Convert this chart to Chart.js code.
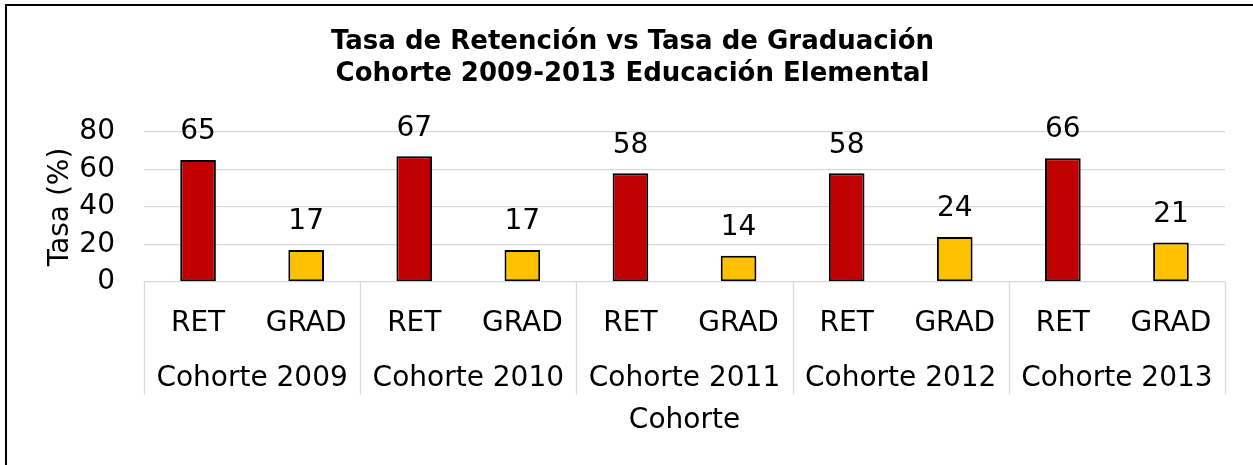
<!DOCTYPE html>
<html>
<head>
<meta charset="utf-8">
<script src="https://cdn.jsdelivr.net/npm/chart.js@4.4.1/dist/chart.umd.min.js"></script>
<style>
  html, body { margin: 0; padding: 0; background: #fff; }
  canvas { display: block; }
</style>
</head>
<body>
<canvas id="tasaChart" width="1253" height="465"></canvas>
<script>
// Datos (%)
const cohorts = ['Cohorte 2009', 'Cohorte 2010', 'Cohorte 2011', 'Cohorte 2012', 'Cohorte 2013'];
const subLabels = ['RET', 'GRAD'];
const retention = [65, 67, 58, 58, 66];
const graduation = [17, 17, 14, 24, 21];
const yTicks = [0, 20, 40, 60, 80];

const RED = '#C00000';
const GOLD = '#FFC000';
const GRID = '#d9d9d9';

// intercalar RET / GRAD por cohorte
const barLabels = [];
const barValues = [];
const barColors = [];
cohorts.forEach((c, i) => {
  barLabels.push(subLabels[0], subLabels[1]);
  barValues.push(retention[i], graduation[i]);
  barColors.push(RED, GOLD);
});

Chart.defaults.font.family = "'DejaVu Sans', sans-serif";
Chart.defaults.color = '#000';

// fondo blanco + marco (solo izquierda y arriba, como la captura)
const framePlugin = {
  id: 'frame',
  beforeDraw(chart) {
    const { ctx, width, height } = chart;
    ctx.save();
    ctx.fillStyle = '#fff';
    ctx.fillRect(0, 0, width, height);
    ctx.strokeStyle = '#000';
    ctx.lineWidth = 2;
    ctx.beginPath();
    ctx.moveTo(6, height);
    ctx.lineTo(6, 5);
    ctx.lineTo(width, 5);
    ctx.stroke();
    ctx.restore();
  }
};

// separadores del eje de categorías en dos niveles
const groupLinesPlugin = {
  id: 'groupLines',
  afterDraw(chart) {
    const x = chart.scales.x;
    const x2 = chart.scales.x2;
    const { ctx } = chart;
    const half = (x.getPixelForValue(1) - x.getPixelForValue(0)) / 2;
    const bottom = x2.top + x2.options.ticks.padding + 33;
    ctx.save();
    ctx.strokeStyle = GRID;
    ctx.lineWidth = 1.3;
    ctx.beginPath();
    for (let g = 0; g <= cohorts.length; g++) {
      const idx = g * subLabels.length;
      const px = Math.round(idx < barLabels.length ? x.getPixelForValue(idx) - half : x.getPixelForValue(idx - 1) + half) + 0.5;
      ctx.moveTo(px, x.top);
      ctx.lineTo(px, bottom);
    }
    ctx.stroke();
    ctx.restore();
  }
};

// etiquetas de valor encima de cada barra
const valueLabelsPlugin = {
  id: 'valueLabels',
  afterDatasetsDraw(chart) {
    const { ctx } = chart;
    const meta = chart.getDatasetMeta(0);
    ctx.save();
    ctx.font = "28px 'DejaVu Sans', sans-serif";
    ctx.fillStyle = '#000';
    ctx.textAlign = 'center';
    ctx.textBaseline = 'middle';
    meta.data.forEach((bar, i) => {
      ctx.fillText(String(barValues[i]), bar.x, bar.y - 28);
    });
    ctx.restore();
  }
};

new Chart(document.getElementById('tasaChart'), {
  type: 'bar',
  data: {
    labels: barLabels,
    datasets: [{
      data: barValues,
      backgroundColor: barColors,
      borderColor: '#000',
      borderWidth: 2,
      borderSkipped: false,
      categoryPercentage: 1,
      barPercentage: 0.33
    }]
  },
  options: {
    responsive: false,
    animation: false,
    layout: { padding: { left: 40, right: 28, top: 0, bottom: 27 } },
    plugins: {
      legend: { display: false },
      tooltip: { enabled: false },
      title: {
        display: true,
        text: ['Tasa de Retención vs Tasa de Graduación', 'Cohorte 2009-2013 Educación Elemental'],
        color: '#000',
        font: { size: 26, weight: 'bold', lineHeight: 1.23 },
        padding: { top: 26, bottom: 42 }
      }
    },
    scales: {
      y: {
        min: 0,
        max: 80,
        afterBuildTicks: (scale) => { scale.ticks = yTicks.map(v => ({ value: v })); },
        afterFit: (scale) => { scale.width = 104; },
        ticks: { font: { size: 28 }, padding: 29, color: '#000', autoSkip: false },
        grid: { color: GRID, lineWidth: 1.3, drawTicks: false },
        border: { display: false },
        title: { display: true, text: 'Tasa (%)', font: { size: 28 }, color: '#000', padding: { top: 4, bottom: 0 } }
      },
      x: {
        weight: 0,
        offset: true,
        afterFit: (scale) => { scale.height = 57; },
        grid: { display: false, drawTicks: false },
        border: { display: false },
        ticks: { font: { size: 28 }, padding: 25, color: '#000', autoSkip: false, maxRotation: 0 }
      },
      x2: {
        type: 'category',
        position: 'bottom',
        weight: 1,
        labels: cohorts,
        offset: true,
        afterFit: (scale) => { scale.height = 99; },
        grid: { display: false, drawTicks: false },
        border: { display: false },
        ticks: { font: { size: 28 }, padding: 22.5, color: '#000', autoSkip: false, maxRotation: 0 },
        title: { display: true, text: 'Cohorte', font: { size: 28 }, color: '#000', padding: { top: 8, bottom: 0 } }
      }
    }
  },
  plugins: [framePlugin, groupLinesPlugin, valueLabelsPlugin]
});
</script>
</body>
</html>
